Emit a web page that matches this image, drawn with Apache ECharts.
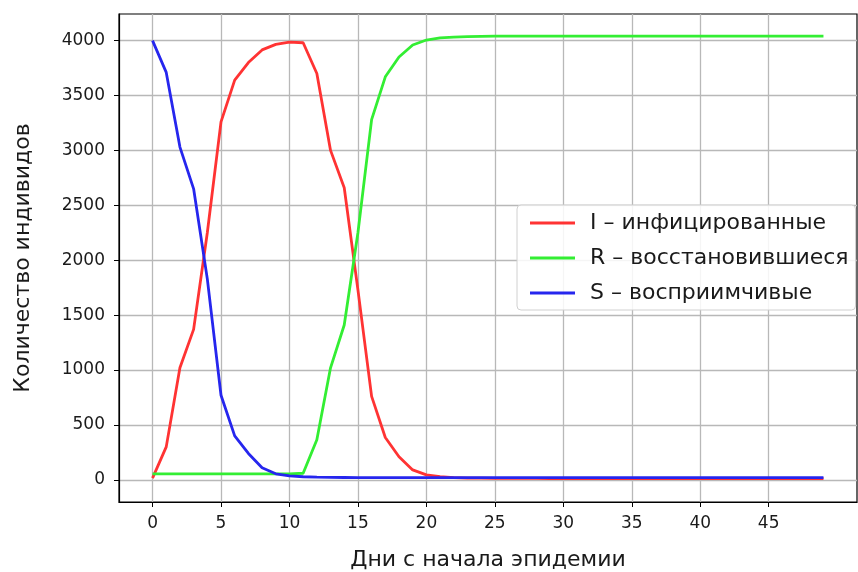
<!DOCTYPE html>
<html>
<head>
<meta charset="utf-8">
<script src="https://cdn.jsdelivr.net/npm/echarts@6/dist/echarts.min.js"></script>
<style>
  html, body { margin: 0; padding: 0; background: #fff; }
  #chart { width: 858px; height: 572px; }
</style>
</head>
<body>
<div id="chart"></div>
<script>
  // дни 0..49
  var days = []
  for (var d = 0; d < 50; d++) days.push(d)

  var infected = [15, 300, 1020, 1370, 2250, 3260, 3640, 3800, 3915, 3965,
    3985, 3980, 3700, 3000, 2660, 1730, 760, 385, 210, 90,
    45, 28, 20, 16, 15, 14, 14, 13, 13, 12,
    12, 12, 12, 12, 12, 12, 12, 12, 12, 12,
    12, 12, 12, 12, 12, 12, 12, 12, 12, 12]
  var recovered = [55, 55, 55, 55, 55, 55, 55, 55, 55, 55,
    55, 60, 365, 1020, 1410, 2250, 3280, 3670, 3850, 3960,
    4005, 4025, 4032, 4036, 4038, 4040, 4040, 4040, 4040, 4040,
    4040, 4040, 4040, 4040, 4040, 4040, 4040, 4040, 4040, 4040,
    4040, 4040, 4040, 4040, 4040, 4040, 4040, 4040, 4040, 4040]
  var susceptible = [4000, 3710, 3030, 2650, 1830, 770, 400, 240, 110, 55,
    35, 28, 24, 22, 21, 20, 20, 20, 20, 20,
    20, 20, 20, 20, 20, 20, 20, 20, 20, 20,
    20, 20, 20, 20, 20, 20, 20, 20, 20, 20,
    20, 20, 20, 20, 20, 20, 20, 20, 20, 20]

  var xTicks = [0, 5, 10, 15, 20, 25, 30, 35, 40, 45]
  var yTicks = [0, 500, 1000, 1500, 2000, 2500, 3000, 3500, 4000]

  var names = ['I – инфицированные', 'R – восстановившиеся', 'S – восприимчивые']
  var colors = ['#ff3333', '#33ee33', '#2626ee']

  function pairs (vals) {
    return days.map(function (d, i) { return [d, vals[i]] })
  }

  var font = 'DejaVu Sans'
  var chart = echarts.init(document.getElementById('chart'))

  chart.setOption({
    animation: false,
    textStyle: { fontFamily: font },
    grid: {
      left: 119, right: 1, top: 14, bottom: 70,
      containLabel: false,
      outerBoundsMode: 'none',
      show: true, borderColor: '#000', borderWidth: 1.2
    },
    xAxis: {
      type: 'value',
      min: -2.45,
      max: 51.45,
      name: 'Дни с начала эпидемии',
      nameLocation: 'middle',
      nameGap: 47,
      nameTextStyle: { fontSize: 22, color: '#1a1a1a', fontFamily: font },
      axisLine: { onZero: false, lineStyle: { color: '#000', width: 1.2 } },
      axisTick: { customValues: xTicks, length: 5, lineStyle: { color: '#000' } },
      axisLabel: {
        customValues: xTicks, margin: 13, fontSize: 17, color: '#1a1a1a',
        formatter: function (v) { return String(v) }
      },
      splitLine: { show: true, lineStyle: { color: '#b8b8b8', width: 1.3 } }
    },
    yAxis: {
      type: 'value',
      min: -202,
      max: 4242,
      name: 'Количество индивидов',
      nameLocation: 'middle',
      nameGap: 85,
      nameRotate: 90,
      nameTextStyle: { fontSize: 22, color: '#1a1a1a', fontFamily: font },
      axisLine: { show: true, onZero: false, lineStyle: { color: '#000', width: 1.2 } },
      axisTick: { show: true, customValues: yTicks, length: 5, lineStyle: { color: '#000' } },
      axisLabel: {
        customValues: yTicks, margin: 14, fontSize: 17, color: '#1a1a1a',
        formatter: function (v) { return String(v) }
      },
      splitLine: { show: true, lineStyle: { color: '#b8b8b8', width: 1.3 } }
    },
    legend: {
      orient: 'vertical',
      left: 517,
      top: 205,
      padding: [6, 7, 5, 13],
      icon: 'rect',
      itemWidth: 45,
      itemHeight: 3,
      itemGap: 11,
      backgroundColor: 'rgba(255,255,255,0.85)',
      borderColor: '#d0d0d0',
      borderWidth: 1,
      borderRadius: 4,
      textStyle: {
        fontSize: 22, color: '#1a1a1a', lineHeight: 24, fontFamily: font,
        padding: [0, 0, 0, 10]
      },
      data: names
    },
    series: names.map(function (n, i) {
      return {
        name: n,
        type: 'line',
        symbol: 'none',
        color: colors[i],
        lineStyle: { width: 2.8, color: colors[i] },
        data: pairs([infected, recovered, susceptible][i])
      }
    })
  })
</script>
</body>
</html>
